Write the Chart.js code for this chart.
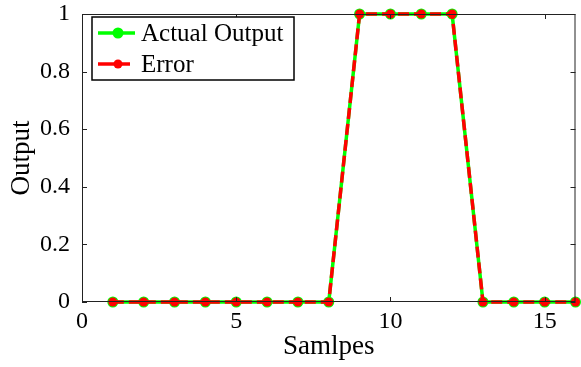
<!DOCTYPE html>
<html>
<head>
<meta charset="UTF-8">
<title>Output vs Samples</title>
<script src="https://cdn.jsdelivr.net/npm/chart.js"></script>
<style>
  html, body { margin: 0; padding: 0; background: #fff; }
  #box { position: relative; width: 581px; height: 367px; }
</style>
</head>
<body>
<div id="box"><canvas id="grafico"></canvas></div>
<script>
// dados
const amostras = [1, 2, 3, 4, 5, 6, 7, 8, 9, 10, 11, 12, 13, 14, 15, 16];
const saidaReal = [0, 0, 0, 0, 0, 0, 0, 0, 1, 1, 1, 1, 0, 0, 0, 0];
const erro = [0, 0, 0, 0, 0, 0, 0, 0, 1, 1, 1, 1, 0, 0, 0, 0];
const ticksX = [0, 5, 10, 15];
const ticksY = [0, 0.2, 0.4, 0.6, 0.8, 1];
const nomes = ['Actual Output', 'Error'];

const fonte = "'Liberation Serif', 'Times New Roman', serif";

// moldura, ticks para dentro e legenda no canto
const molduraPlugin = {
    id: 'moldura',
    afterDraw(chart) {
        const ctx = chart.ctx;
        const a = chart.chartArea;
        const sx = chart.scales.x, sy = chart.scales.y;
        ctx.save();
        ctx.strokeStyle = '#222';
        ctx.lineWidth = 1;
        ctx.strokeRect(a.left + 0.5, a.top + 0.5, a.right - a.left - 1, a.bottom - a.top - 1);
        ctx.beginPath();
        sx.ticks.forEach(t => {
            const x = Math.round(sx.getPixelForValue(t.value)) + 0.5;
            ctx.moveTo(x, a.bottom); ctx.lineTo(x, a.bottom - 5);
            ctx.moveTo(x, a.top); ctx.lineTo(x, a.top + 5);
        });
        sy.ticks.forEach(t => {
            const y = Math.round(sy.getPixelForValue(t.value)) + 0.5;
            ctx.moveTo(a.left, y); ctx.lineTo(a.left + 5, y);
            ctx.moveTo(a.right, y); ctx.lineTo(a.right - 5, y);
        });
        ctx.stroke();

        // legenda
        const lx = 92, ly = 17, lw = 202, lh = 63;
        ctx.fillStyle = '#fff';
        ctx.fillRect(lx, ly, lw, lh);
        ctx.strokeStyle = '#000';
        ctx.lineWidth = 1.5;
        ctx.strokeRect(lx, ly, lw, lh);
        const ds = chart.data.datasets;
        const linhas = [ds.find(d => d.label === nomes[0]), ds.find(d => d.label === nomes[1])];
        linhas.forEach((d, i) => {
            const y = ly + 16 + i * 31;
            ctx.strokeStyle = d.borderColor;
            ctx.lineWidth = d.borderWidth;
            ctx.setLineDash([]);
            ctx.beginPath();
            ctx.moveTo(lx + 6, y); ctx.lineTo(lx + (i ? 38 : 43), y);
            ctx.stroke();
            ctx.fillStyle = d.pointBackgroundColor;
            ctx.beginPath();
            ctx.arc(lx + 26, y, d.pointRadius, 0, Math.PI * 2);
            ctx.fill();
            ctx.fillStyle = '#000';
            ctx.font = '25px ' + fonte;
            ctx.textBaseline = 'middle';
            ctx.fillText(d.label, lx + 49, y + 1);
        });
        ctx.restore();
    }
};

const config = {
    type: 'line',
    data: {
        labels: amostras,
        datasets: [
            {
                label: nomes[1],
                data: amostras.map((x, i) => ({ x: x, y: erro[i] })),
                borderColor: '#ff0000',
                backgroundColor: '#ff0000',
                pointBackgroundColor: '#ff0000',
                pointBorderColor: '#ff0000',
                borderWidth: 3.5,
                borderDash: [11, 5],
                pointRadius: 4.5,
                pointBorderWidth: 0,
                tension: 0,
                order: 0
            },
            {
                label: nomes[0],
                data: amostras.map((x, i) => ({ x: x, y: saidaReal[i] })),
                borderColor: '#00ff00',
                backgroundColor: '#00ff00',
                pointBackgroundColor: '#00ff00',
                pointBorderColor: '#00ff00',
                borderWidth: 3.5,
                pointRadius: 5.5,
                pointBorderWidth: 0,
                tension: 0,
                order: 1
            }
        ]
    },
    options: {
        responsive: false,
        animation: false,
        clip: false,
        layout: { padding: { top: 14, right: 3, left: 0, bottom: 0 } },
        plugins: { legend: { display: false }, tooltip: { enabled: false } },
        scales: {
            x: {
                type: 'linear',
                min: 0, max: 16,
                afterBuildTicks: s => { s.ticks = ticksX.map(v => ({ value: v })); },
                afterFit: s => { s.height = 65; s.paddingLeft = 0; s.paddingRight = 0; },
                grid: { display: false },
                border: { display: false },
                ticks: { color: '#000', font: { family: fonte, size: 24 }, padding: -3, maxRotation: 0,
                         callback: v => String(v) },
                title: { display: true, text: 'Samlpes', color: '#000', font: { family: fonte, size: 27 }, padding: { top: 1 } }
            },
            y: {
                min: 0, max: 1,
                afterBuildTicks: s => { s.ticks = ticksY.map(v => ({ value: v })); },
                afterFit: s => { s.width = 82; s.paddingTop = 0; s.paddingBottom = 0; },
                grid: { display: false },
                border: { display: false },
                ticks: { color: '#000', font: { family: fonte, size: 24 }, padding: 4,
                         callback: v => String(v) },
                title: { display: true, text: 'Output', color: '#000', font: { family: fonte, size: 27 }, padding: { top: 6, bottom: 0 } }
            }
        }
    },
    plugins: [molduraPlugin]
};

const canvas = document.getElementById('grafico');
canvas.width = 581;
canvas.height = 367;
new Chart(canvas, config);
</script>
</body>
</html>
